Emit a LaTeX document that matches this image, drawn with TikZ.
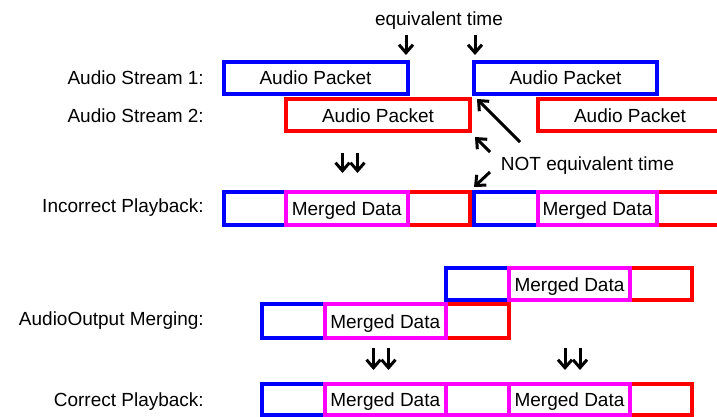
\documentclass[tikz,border=0pt]{standalone}
\usepackage{fontspec}
\setmainfont{Liberation Sans}
\usetikzlibrary{arrows.meta}

\definecolor{pblue}{RGB}{0,0,255}
\definecolor{pred}{RGB}{255,0,0}
\definecolor{pmag}{RGB}{255,0,255}

% packet box: style, name, x-left, x-right, y-top, y-bottom, text (centre-line coordinates)
\newcommand\pktbox[7]{%
  \node[#1, minimum width={#4-#3}, minimum height={#6-#5}] (#2)
    at ({(#3+#4)/2},{(#5+#6)/2}) {#7};}

\tikzset{
  box/.style={line width=4pt, inner sep=0pt, outer sep=0pt, line join=miter,
    text height=14pt, text depth=0pt, anchor=center},
  bbox/.style={box, draw=pblue},
  rbox/.style={box, draw=pred},
  mbox/.style={box, draw=pmag},
  rowlabel/.style={anchor=base east, inner sep=0pt},
  note/.style={anchor=base, inner sep=0pt},
  pointer/.style={line width=3pt, line cap=butt,
    -{Straight Barb[length=8pt,width=14pt]}},
}

\begin{document}
\begin{tikzpicture}[x=1pt, y=-1pt, font=\fontsize{19}{22}\selectfont]
  \useasboundingbox (0,0) rectangle (717,417);
  \fill[white] (0,0) rectangle (717,417);
  \clip (0,0) rectangle (717,417);

  % row labels
  \node[rowlabel] (l1) at (204,85)  {Audio Stream 1:};
  \node[rowlabel] (l2) at (204,123) {Audio Stream 2:};
  \node[rowlabel] (l3) at (204,212) {Incorrect Playback:};
  \node[rowlabel] (l4) at (204,325) {AudioOutput Merging:};
  \node[rowlabel] (l5) at (204,406) {Correct Playback:};

  % input streams
  \pktbox{bbox}{s1a}{223.5}{407.5}{62}{94}{Audio Packet}
  \pktbox{bbox}{s1b}{474}{657}{62}{94}{Audio Packet}
  \pktbox{rbox}{s2a}{286}{470}{99}{131}{Audio Packet}
  \pktbox{rbox}{s2b}{538}{722}{99}{131}{Audio Packet}

  % incorrect playback
  \pktbox{bbox}{ib1}{223.5}{286}{192}{225}{}
  \pktbox{rbox}{ir1}{407.5}{470}{192}{225}{}
  \pktbox{bbox}{ib2}{474}{538}{192}{225}{}
  \pktbox{rbox}{ir2}{657}{722}{192}{225}{}
  \pktbox{mbox}{im1}{286}{407.5}{192}{225}{Merged Data}
  \pktbox{mbox}{im2}{538}{657}{192}{225}{Merged Data}

  % merging in the audio output
  \pktbox{bbox}{mb2}{445.5}{509}{268}{300}{}
  \pktbox{rbox}{mr2}{630}{692}{268}{300}{}
  \pktbox{mbox}{mm2}{509}{630}{268}{300}{Merged Data}
  \pktbox{bbox}{mb1}{262}{325}{304}{338}{}
  \pktbox{rbox}{mr1}{445.5}{509}{304}{338}{}
  \pktbox{mbox}{mm1}{325}{445.5}{304}{338}{Merged Data}

  % correct playback
  \pktbox{bbox}{cb}{262}{325}{384}{415}{}
  \pktbox{rbox}{cr}{630}{692}{384}{415}{}
  \pktbox{mbox}{cm1}{325}{445.5}{384}{415}{Merged Data}
  \pktbox{mbox}{cm2}{445.5}{509}{384}{415}{}
  \pktbox{mbox}{cm3}{509}{630}{384}{415}{Merged Data}

  % equivalent time markers
  \node[note] (eqt) at (439,26) {equivalent time};
  \coordinate (eqa0) at (406,35);  \coordinate (eqa1) at (406,55);
  \coordinate (eqb0) at (475,35);  \coordinate (eqb1) at (475,55);
  \draw[pointer] (eqa0) -- (eqa1);
  \draw[pointer] (eqb0) -- (eqb1);

  % not equivalent time markers
  \node[note] (neq) at (587.5,170.5) {NOT equivalent time};
  \coordinate (na0) at (520,142);  \coordinate (na1) at (477,99);
  \coordinate (nb0) at (490,152);  \coordinate (nb1) at (475,137);
  \coordinate (nc0) at (490,172);  \coordinate (nc1) at (474,187);
  \draw[pointer] (na0) -- (na1);
  \draw[pointer] (nb0) -- (nb1);
  \draw[pointer] (nc0) -- (nc1);

  % double down arrows
  \foreach \n/\x/\ya/\yb in {da/342.5/153/173, db/357.5/153/173,
                              dc/373.5/348/370, dd/388.5/348/370,
                              de/565/348/370, df/580/348/370} {
    \coordinate (\n0) at (\x,\ya);
    \coordinate (\n1) at (\x,\yb);
    \draw[pointer] (\n0) -- (\n1);
  }
\end{tikzpicture}
\end{document}
